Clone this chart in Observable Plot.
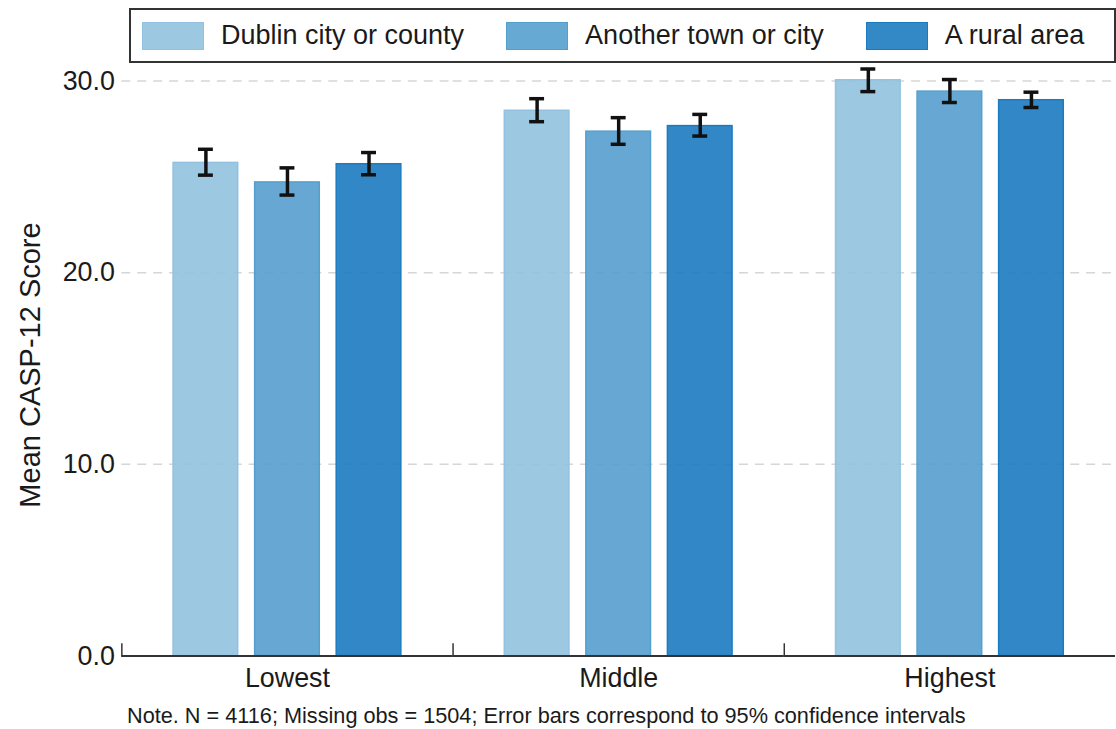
<!DOCTYPE html>
<html>
<head>
<meta charset="utf-8">
<script src="https://cdn.jsdelivr.net/npm/d3@7"></script>
<script src="https://cdn.jsdelivr.net/npm/@observablehq/plot@0.6"></script>
<style>
  body { margin: 0; background: #fff; font-family: "Liberation Sans", Arial, sans-serif; color: #1a1a1a; }
  #wrap { position: relative; width: 1116px; height: 729px; overflow: hidden; }
  #chart { position: absolute; left: 0; top: 0; }
  #legend { position: absolute; left: 129px; top: 8px; width: 972px; height: 51px; border: 2px solid #333;
            display: flex; align-items: center; gap: 42px; padding-left: 11px; box-sizing: content-box; font-size: 27px; }
  .item { display: flex; align-items: center; white-space: nowrap; }
  .sw { width: 62px; height: 28px; box-sizing: border-box; border: 1.5px solid; margin-right: 17px; }
  #ylabel { position: absolute; left: 30px; top: 365px; transform: translate(-50%, -50%) rotate(-90deg);
            font-size: 29px; white-space: nowrap; }
  #note { position: absolute; left: 127px; top: 705px; font-size: 21.7px; line-height: 21px; white-space: nowrap; }
</style>
</head>
<body>
<div id="wrap">
  <div id="chart"></div>
  <div id="legend"></div>
  <div id="ylabel"></div>
  <div id="note"></div>
</div>
<script>
// ---- data ----
const groups = ["Lowest", "Middle", "Highest"];
const areas = ["Dublin city or county", "Another town or city", "A rural area"];
const meanLowest  = [25.73, 24.71, 25.66];
const meanMiddle  = [28.45, 27.36, 27.65];
const meanHighest = [30.04, 29.45, 29.00];
const loLowest  = [25.09, 24.05, 25.11];
const hiLowest  = [26.44, 25.47, 26.27];
const loMiddle  = [27.88, 26.70, 27.13];
const hiMiddle  = [29.08, 28.09, 28.26];
const loHighest = [29.45, 28.88, 28.62];
const hiHighest = [30.63, 30.08, 29.42];
const yTicks = [0, 10, 20, 30];
const yLabel = "Mean CASP-12 Score";
const noteText = "Note. N = 4116; Missing obs = 1504; Error bars correspond to 95% confidence intervals";
const edgeColors = ["#92c2df", "#559fce", "#1c7bc0"];
const fillColors = ["#9dc8e2", "#66a9d3", "#3388c6"];

const means = [meanLowest, meanMiddle, meanHighest];
const los = [loLowest, loMiddle, loHighest];
const his = [hiLowest, hiMiddle, hiHighest];
const data = groups.flatMap((g, i) => areas.map((a, j) => ({
  group: g, area: a, mean: means[i][j], lo: los[i][j], hi: his[i][j]
})));

const plotH = 702, mTop = 81, mBottom = 43;
const chart = Plot.plot({
  width: 1122,
  height: plotH,
  marginLeft: 121,
  marginRight: 0,
  marginTop: mTop,
  marginBottom: mBottom,
  style: { fontFamily: "Liberation Sans, Arial, sans-serif", fontSize: "27px", color: "#1a1a1a", background: "transparent", overflow: "visible" },
  fx: { domain: groups, padding: 0, label: null },
  x: { domain: areas, paddingInner: 0.205, paddingOuter: 0.61, axis: null },
  y: { domain: [0, 30], label: null },
  color: { domain: areas, range: edgeColors },
  marks: [
    Plot.gridY(yTicks.filter(d => d > 0), { stroke: "#d6d6d6", strokeOpacity: 1, strokeWidth: 1.5, strokeDasharray: "9,7" }),
    Plot.barY(data, { fx: "group", x: "area", y: "mean", fill: "area", fillOpacity: 0.9, stroke: "area", strokeWidth: 1.5 }),
    Plot.ruleX(data, { fx: "group", x: "area", y1: "lo", y2: "hi", stroke: "#111", strokeWidth: 3.5 }),
    Plot.tickY(data, { fx: "group", x: "area", y: "lo", stroke: "#111", strokeWidth: 3.5, inset: 25 }),
    Plot.tickY(data, { fx: "group", x: "area", y: "hi", stroke: "#111", strokeWidth: 3.5, inset: 25 }),
    Plot.ruleY([0], { stroke: "#333", strokeWidth: 2 }),
    Plot.frame({ anchor: "left", insetTop: plotH - mTop - mBottom - 12, stroke: "#333", strokeWidth: 1.5 }),
    Plot.axisY({ ticks: yTicks, tickFormat: d3.format(".1f"), tickSize: 0, tickPadding: 7, label: null, fontSize: 27 }),
    Plot.axisFx({ anchor: "bottom", tickSize: 0, tickPadding: 12, label: null, fontSize: 27 })
  ]
});
document.getElementById("chart").appendChild(chart);

// legend
const legend = document.getElementById("legend");
areas.forEach((a, i) => {
  const it = document.createElement("div");
  it.className = "item";
  const sw = document.createElement("div");
  sw.className = "sw";
  sw.style.background = fillColors[i];
  sw.style.borderColor = edgeColors[i];
  const t = document.createElement("span");
  t.textContent = a;
  it.appendChild(sw); it.appendChild(t);
  legend.appendChild(it);
});
document.getElementById("ylabel").textContent = yLabel;
document.getElementById("note").textContent = noteText;
</script>
</body>
</html>
